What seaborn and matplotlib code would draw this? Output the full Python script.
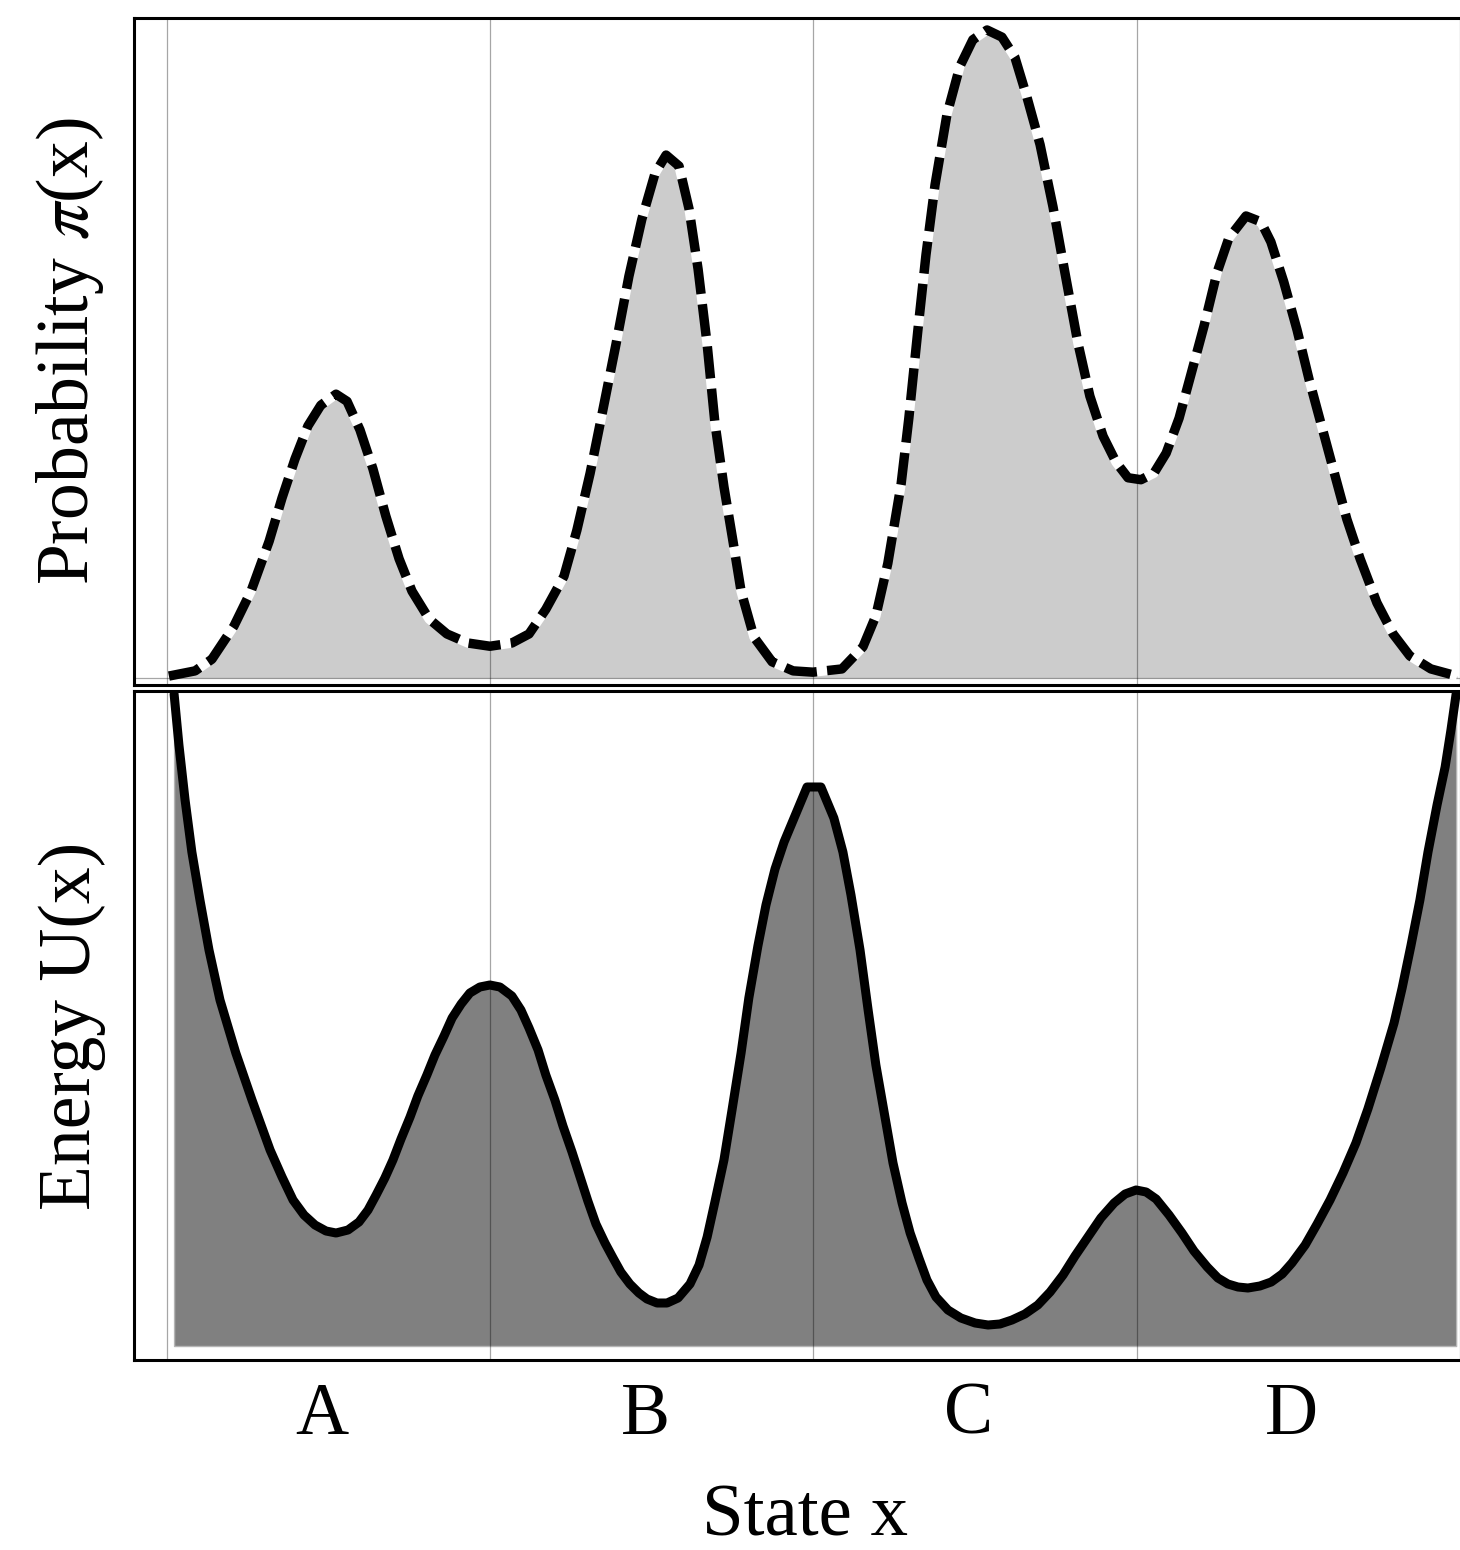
import numpy as np
import pandas as pd
import matplotlib
matplotlib.use("Agg")
import matplotlib.pyplot as plt
import seaborn as sns

# ---------------- data ----------------
states = ["A", "B", "C", "D"]

x_prob = [0.006, 0.087, 0.139, 0.207, 0.260, 0.316, 0.356, 0.396, 0.436, 0.476,
          0.523, 0.557, 0.597, 0.637, 0.677, 0.718, 0.758, 0.811, 0.866, 0.931,
          0.999, 1.067, 1.120, 1.172, 1.228, 1.268, 1.309, 1.349, 1.389, 1.429,
          1.469, 1.510, 1.544, 1.584, 1.615, 1.643, 1.671, 1.695, 1.723, 1.751,
          1.776, 1.816, 1.872, 1.937, 1.998, 2.088, 2.153, 2.193, 2.230, 2.271,
          2.295, 2.323, 2.348, 2.376, 2.413, 2.453, 2.493, 2.537, 2.583, 2.623,
          2.660, 2.701, 2.741, 2.778, 2.818, 2.855, 2.896, 2.936, 2.973, 3.013,
          3.053, 3.091, 3.131, 3.168, 3.208, 3.248, 3.285, 3.338, 3.384, 3.415,
          3.455, 3.496, 3.533, 3.573, 3.613, 3.650, 3.691, 3.743, 3.793, 3.845,
          3.910, 3.991]
pi_vals = [0.003, 0.011, 0.029, 0.080, 0.134, 0.211, 0.278, 0.338, 0.389, 0.421,
           0.438, 0.427, 0.383, 0.323, 0.250, 0.184, 0.134, 0.091, 0.068, 0.054,
           0.049, 0.054, 0.068, 0.106, 0.157, 0.228, 0.316, 0.415, 0.515, 0.620,
           0.708, 0.779, 0.807, 0.790, 0.724, 0.631, 0.515, 0.394, 0.295, 0.211,
           0.134, 0.063, 0.025, 0.011, 0.009, 0.014, 0.048, 0.096, 0.177, 0.299,
           0.401, 0.537, 0.653, 0.761, 0.870, 0.944, 0.985, 1.000, 0.989, 0.958,
           0.897, 0.823, 0.727, 0.625, 0.517, 0.435, 0.373, 0.333, 0.309, 0.306,
           0.316, 0.347, 0.401, 0.469, 0.543, 0.625, 0.679, 0.713, 0.704, 0.673,
           0.611, 0.537, 0.461, 0.387, 0.313, 0.245, 0.184, 0.116, 0.068, 0.034,
           0.014, 0.003]

x_energy = [0.022, 0.037, 0.056, 0.077, 0.102, 0.130, 0.164, 0.213, 0.263, 0.319,
            0.356, 0.390, 0.424, 0.458, 0.492, 0.523, 0.560, 0.594, 0.622, 0.647,
            0.674, 0.699, 0.724, 0.752, 0.776, 0.804, 0.829, 0.857, 0.882, 0.910,
            0.937, 0.968, 0.999, 1.030, 1.067, 1.095, 1.120, 1.148, 1.172, 1.200,
            1.225, 1.253, 1.278, 1.302, 1.327, 1.355, 1.380, 1.404, 1.432, 1.460,
            1.485, 1.516, 1.547, 1.581, 1.618, 1.646, 1.671, 1.695, 1.723, 1.748,
            1.776, 1.800, 1.828, 1.853, 1.881, 1.909, 1.940, 1.980, 2.023, 2.063,
            2.091, 2.116, 2.144, 2.169, 2.193, 2.221, 2.246, 2.274, 2.299, 2.326,
            2.351, 2.379, 2.416, 2.456, 2.500, 2.540, 2.577, 2.614, 2.654, 2.694,
            2.732, 2.772, 2.809, 2.849, 2.889, 2.930, 2.964, 2.998, 3.029, 3.060,
            3.100, 3.140, 3.177, 3.218, 3.251, 3.282, 3.313, 3.344, 3.381, 3.416,
            3.450, 3.480, 3.521, 3.558, 3.598, 3.638, 3.678, 3.715, 3.755, 3.796,
            3.821, 3.848, 3.876, 3.901, 3.929, 3.954, 3.972, 3.988]
U_vals = [6.52, 6.01, 5.46, 4.94, 4.46, 3.96, 3.46, 2.93, 2.46, 1.96,
          1.69, 1.46, 1.31, 1.21, 1.15, 1.13, 1.16, 1.24, 1.36, 1.51,
          1.68, 1.86, 2.07, 2.29, 2.50, 2.71, 2.91, 3.10, 3.28, 3.42,
          3.53, 3.59, 3.61, 3.59, 3.50, 3.36, 3.18, 2.96, 2.71, 2.46,
          2.20, 1.94, 1.69, 1.45, 1.22, 1.03, 0.88, 0.74, 0.62, 0.53,
          0.47, 0.43, 0.43, 0.48, 0.62, 0.81, 1.09, 1.44, 1.86, 2.36,
          2.93, 3.48, 4.00, 4.41, 4.77, 5.04, 5.28, 5.59, 5.59, 5.28,
          4.94, 4.51, 3.96, 3.36, 2.81, 2.29, 1.83, 1.43, 1.13, 0.88,
          0.66, 0.49, 0.36, 0.28, 0.23, 0.21, 0.22, 0.26, 0.32, 0.41,
          0.54, 0.71, 0.90, 1.09, 1.28, 1.43, 1.52, 1.56, 1.54, 1.47,
          1.31, 1.13, 0.95, 0.79, 0.68, 0.62, 0.59, 0.58, 0.60, 0.64,
          0.72, 0.83, 1.01, 1.22, 1.46, 1.73, 2.03, 2.37, 2.78, 3.23,
          3.58, 4.00, 4.46, 4.94, 5.41, 5.79, 6.16, 6.52]

grid_x = [0, 1, 2, 3, 4]

# ---------------- style ----------------
sns.set_theme(style="white")
plt.rcParams["font.family"] = ["Liberation Serif", "DejaVu Serif"]
plt.rcParams["mathtext.fontset"] = "stix"
plt.rcParams["text.color"] = "black"
plt.rcParams["axes.labelcolor"] = "black"
plt.rcParams["xtick.color"] = "black"
plt.rcParams["ytick.color"] = "black"

W, H = 1460, 1550
fig = plt.figure(figsize=(W / 100, H / 100), dpi=100)
ax1 = fig.add_axes([134 / W, 1 - 685 / H, (W - 134) / W, (685 - 18) / H])
ax2 = fig.add_axes([134 / W, 1 - 1360 / H, (W - 134) / W, (1360 - 691) / H], sharex=ax1)

# ---------------- top: probability ----------------
ax1.fill_between(x_prob, pi_vals, 0, color="#cccccc", linewidth=0, zorder=1)
sns.lineplot(x=x_prob, y=pi_vals, ax=ax1, color="black", linewidth=6.8,
             linestyle=(0, (3.4, 1.1)), gapcolor="white", zorder=4)
ax1.axhline(0, color="black", alpha=0.35, lw=0.9, zorder=2)

# ---------------- bottom: energy ----------------
ax2.fill_between(x_energy, U_vals, 0, facecolor="#808080", edgecolor="#b5b5b5",
                 linewidth=1.0, zorder=1)
sns.lineplot(x=x_energy, y=U_vals, ax=ax2, color="black", linewidth=6.5, zorder=4)

for ax in (ax1, ax2):
    for gx in grid_x:
        ax.axvline(gx, color="black", alpha=0.35, lw=0.9, zorder=2)
    ax.set_yticks([])
    ax.spines["right"].set_visible(False)
    for s in ("left", "top", "bottom"):
        ax.spines[s].set_color("black")
        ax.spines[s].set_linewidth(2.2)
    ax.grid(False)

ax1.set_xlim(-0.102, 4.0)
ax1.set_ylim(-0.0108, 1.0185)
ax2.set_ylim(-0.14, 6.55)

ax2.set_xticks([0.48, 1.48, 2.48, 3.48])
ax2.set_xticklabels(states, fontsize=53)
ax2.tick_params(axis="x", length=0, pad=16)
ax1.tick_params(axis="x", length=0, labelbottom=False)

ax1.set_xlabel("")
ax1.set_ylabel(r"Probability $\pi$(x)", fontsize=53)
ax1.yaxis.set_label_coords(-0.021, 0.5)
ax2.set_ylabel("Energy U(x)", fontsize=53)
ax2.yaxis.set_label_coords(-0.021, 0.5)
ax2.set_xlabel("State x", fontsize=54)
ax2.xaxis.set_label_coords(0.506, -0.186)

fig.savefig("out.png", dpi=100)
